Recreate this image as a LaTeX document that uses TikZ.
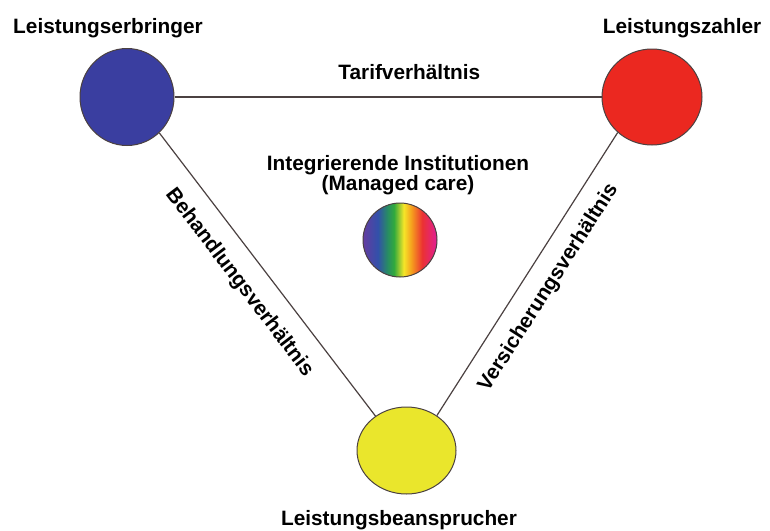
\documentclass[tikz,border=0pt]{standalone}
\usepackage{fontspec}
\setmainfont{Liberation Sans}
\usetikzlibrary{shapes.geometric}
\definecolor{cblue}{RGB}{58,62,160}
\definecolor{cred}{RGB}{235,40,32}
\definecolor{cyellow}{RGB}{234,230,44}
\definecolor{edgec}{RGB}{75,65,65}
\definecolor{rvio}{RGB}{100,60,160}
\definecolor{rblu}{RGB}{50,80,170}
\definecolor{rtea}{RGB}{40,140,100}
\definecolor{rgrn}{RGB}{50,170,60}
\definecolor{ryel}{RGB}{245,230,40}
\definecolor{rora}{RGB}{245,155,30}
\definecolor{rred}{RGB}{235,50,50}
\definecolor{rmag}{RGB}{225,30,150}
\pgfdeclarehorizontalshading{rainbow}{100bp}{color(0bp)=(rvio); color(25bp)=(rvio); color(35bp)=(rblu); color(41.5bp)=(rtea); color(46bp)=(rgrn); color(52.5bp)=(ryel); color(58bp)=(rora); color(65bp)=(rred); color(75bp)=(rmag); color(100bp)=(rmag)}
\tikzset{
  ball/.style={ellipse, draw=edgec, line width=1pt, inner sep=0pt},
  conn/.style={draw=edgec, line width=1.2pt},
  lbl/.style={font=\fontsize{20.8}{20}\selectfont\bfseries, inner sep=0pt, text=black},
}
\begin{document}
\begin{tikzpicture}[x=1pt, y=-1pt]
\useasboundingbox[fill=white] (0,0) rectangle (770,530);
% actors
\node[ball, fill=cblue, minimum width=94pt, minimum height=97pt] (lb) at (127,97) {};
\node[ball, fill=cred, minimum width=100pt, minimum height=96pt] (lr) at (652,97) {};
\node[ball, fill=cyellow, minimum width=99pt, minimum height=87pt] (ly) at (406.5,450.5) {};
\node[ball, shading=rainbow, minimum width=74pt, minimum height=74pt] (ri) at (400,240) {};
% titles
\node[lbl, anchor=base] (tb) at (108,33) {Leistungserbringer};
\node[lbl, anchor=base] (tr) at (682,33) {Leistungszahler};
\node[lbl, anchor=base] (ty) at (399,525) {Leistungsbeansprucher};
\node[lbl, anchor=north, align=center] (ti) at (398,155) {Integrierende Institutionen\\(Managed care)};
% relations
\draw[conn] (lb.east) -- (lr.west) node[lbl, pos=0.55, above=17pt] {Tarifverhältnis};
\draw[conn] (lb.312) -- (ly.132) node[lbl, pos=0.47, sloped, below=17pt] {Behandlungsverhältnis};
\draw[conn] (lr.226) -- (ly.49) node[lbl, pos=0.5, sloped, below=15pt] {Versicherungsverhältnis};
\end{tikzpicture}
\end{document}
